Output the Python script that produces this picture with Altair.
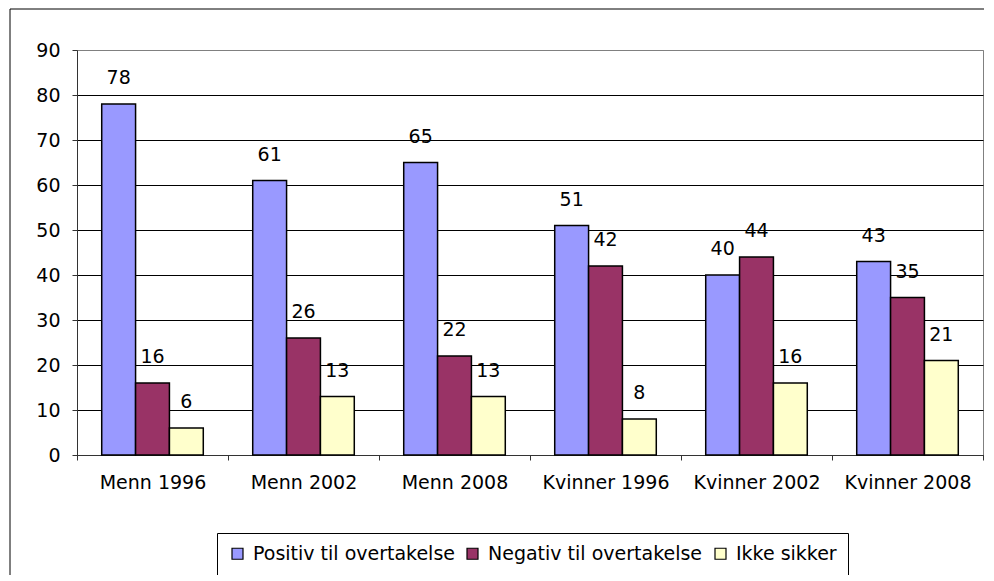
import altair as alt
import pandas as pd

categories = ["Menn 1996", "Menn 2002", "Menn 2008", "Kvinner 1996", "Kvinner 2002", "Kvinner 2008"]
series = ["Positiv til overtakelse", "Negativ til overtakelse", "Ikke sikker"]
positiv = [78, 61, 65, 51, 40, 43]
negativ = [16, 26, 22, 42, 44, 35]
ikke_sikker = [6, 13, 13, 8, 16, 21]
colors = ["#9999FF", "#993366", "#FFFFCC"]
y_ticks = [0, 10, 20, 30, 40, 50, 60, 70, 80, 90]

rows = []
for i, c in enumerate(categories):
    for s, vals in zip(series, [positiv, negativ, ikke_sikker]):
        rows.append({"kategori": c, "serie": s, "verdi": vals[i]})
df = pd.DataFrame(rows)

W, H = 906, 405
FONT = "DejaVu Sans"
FS = 19

x = alt.X(
    "kategori:N", sort=categories, title=None,
    scale=alt.Scale(paddingInner=0, paddingOuter=0),
    axis=alt.Axis(tickBand="extent", labelAngle=0, labelFontSize=FS, labelFont=FONT,
                  labelColor="black", labelPadding=13, tickSize=5, tickColor="#333333",
                  domainColor="#333333", grid=False, labelLimit=0),
)
xo = alt.XOffset("serie:N", sort=series, scale=alt.Scale(paddingInner=0, paddingOuter=0.73))
y = alt.Y(
    "verdi:Q", title=None, scale=alt.Scale(domain=[0, 90], nice=False),
    axis=alt.Axis(values=y_ticks, labelFontSize=FS, labelFont=FONT, labelColor="black",
                  labelPadding=12, tickSize=5, tickColor="#333333", domainColor="#333333",
                  grid=True,
                  gridColor={"condition": {"test": "datum.value == 90", "value": "#808080"},
                             "value": "#000000"}),
)
color = alt.Color(
    "serie:N", sort=series, scale=alt.Scale(domain=series, range=colors),
    legend=alt.Legend(title=None, orient="none", legendX=140, legendY=483,
                      direction="horizontal", strokeColor="black", fillColor="white",
                      padding=11, symbolType="square", symbolSize=121,
                      symbolStrokeColor="black", symbolStrokeWidth=1.2,
                      labelFontSize=FS, labelFont=FONT, labelColor="black",
                      columnPadding=8, labelOffset=6, labelLimit=0),
)

base = alt.Chart(df)
bars = base.mark_bar(stroke="black", strokeWidth=1.5).encode(x=x, xOffset=xo, y=y, color=color)
labels = base.mark_text(baseline="alphabetic", dy=-20, fontSize=FS, font=FONT, color="black").encode(
    x=x, xOffset=xo, y=y, text="verdi:Q")

one = pd.DataFrame({"a": [0]})
frame_top = alt.Chart(one).mark_rule(color="black", strokeWidth=1).encode(
    x=alt.value(-67), x2=alt.value(W + 20), y=alt.value(-41))
frame_left = alt.Chart(one).mark_rule(color="black", strokeWidth=1).encode(
    x=alt.value(-67), y=alt.value(-41), y2=alt.value(H + 140))

chart = alt.layer(bars, labels, frame_top, frame_left).properties(
    width=W, height=H,
    autosize=alt.AutoSizeParams(type="none"),
    padding={"left": 69, "top": 42, "right": 1, "bottom": 120},
    background="white",
).configure_view(stroke="#808080", strokeWidth=1)

chart.save("out.html", embed_options={"renderer": "svg", "actions": False})
